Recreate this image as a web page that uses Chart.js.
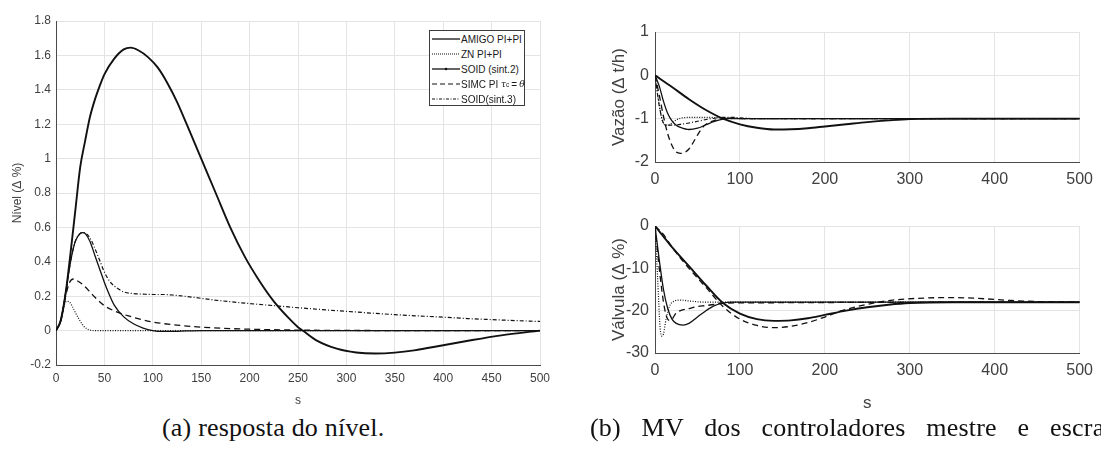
<!DOCTYPE html>
<html lang="pt">
  <head>
    <meta charset="UTF-8" />
    <title>Resposta do nível e MV dos controladores</title>
    <script src="https://cdn.jsdelivr.net/npm/chart.js"></script>
    <style>
      body {
        margin: 0;
        width: 1101px;
        height: 455px;
        overflow: hidden;
        position: relative;
        background: #fff;
        font-family: "Liberation Sans", Arial, sans-serif;
      }
      canvas { position: absolute; }
      #nivelChart { left: 0; top: 0; }
      #vazaoChart { left: 590px; top: 0; }
      #valvulaChart { left: 590px; top: 200px; }
      .legenda {
        position: absolute;
        left: 429px;
        top: 30px;
        width: 96px;
        height: 76px;
        box-sizing: border-box;
        border: 1px solid #3c3c3c;
        background: #fff;
        font-size: 10px;
        color: #1a1a1a;
        padding-top: 0.5px;
      }
      .legenda div {
        height: 15px;
        display: flex;
        align-items: center;
        white-space: nowrap;
      }
      .legenda svg { width: 28px; height: 8px; margin: 0 1px 0 2px; flex: none; }
      .legenda i { font-family: "DejaVu Serif", serif; font-size: 9px; }
      .legenda sub { font-size: 6.5px; }
      .caption {
        position: absolute;
        top: 413px;
        font-family: "Liberation Serif", "DejaVu Serif", serif;
        font-size: 26px;
        letter-spacing: 0.2px;
        color: #111;
        white-space: nowrap;
      }
    </style>
  </head>
  <body>
    <canvas id="nivelChart" width="560" height="412"></canvas>
    <canvas id="vazaoChart" width="511" height="200"></canvas>
    <canvas id="valvulaChart" width="511" height="218"></canvas>

    <div class="legenda">
      <div><svg><line x1="0" y1="4" x2="28" y2="4" stroke="#111" stroke-width="1.3" /></svg>AMIGO PI+PI</div>
      <div><svg><line x1="0" y1="4" x2="28" y2="4" stroke="#111" stroke-width="1" stroke-dasharray="1 1" /></svg>ZN PI+PI</div>
      <div><svg><line x1="0" y1="4" x2="28" y2="4" stroke="#111" stroke-width="1.3" /><circle cx="14" cy="4" r="1.3" fill="#111" /></svg>SOID (sint.2)</div>
      <div><svg><line x1="0" y1="4" x2="28" y2="4" stroke="#111" stroke-width="1.2" stroke-dasharray="5 3" /></svg>SIMC PI <i>&nbsp;τ</i><sub>c</sub>&thinsp;=&thinsp;<i>θ</i></div>
      <div><svg><line x1="0" y1="4" x2="28" y2="4" stroke="#111" stroke-width="1" stroke-dasharray="3 1.5 1 1.5" /></svg>SOID(sint.3)</div>
    </div>

    <div class="caption" style="left: 162px">(a) resposta do nível.</div>
    <div class="caption" style="left: 590px; word-spacing: 14px">(b) MV dos controladores mestre e escravo.</div>

    <script>
      // ---- (a) Nível (Δ %) ----
      const nivelSoid2T = [0, 5, 10, 15, 20, 25, 30, 35, 40, 45, 50, 60, 70, 77, 85, 95, 105, 115, 125, 135, 150, 165, 180, 195, 210, 225, 240, 250, 255, 270, 290, 310, 330, 350, 370, 400, 430, 460, 500];
      const nivelSoid2 = [0, 0.06, 0.22, 0.45, 0.7, 0.95, 1.1, 1.24, 1.34, 1.42, 1.49, 1.58, 1.635, 1.645, 1.63, 1.59, 1.53, 1.44, 1.33, 1.2, 1.0, 0.8, 0.6, 0.43, 0.29, 0.17, 0.075, 0.02, 0, -0.06, -0.105, -0.127, -0.133, -0.128, -0.115, -0.085, -0.055, -0.028, 0];

      const nivelAmigoT = [0, 5, 10, 15, 20, 25, 28, 30, 35, 40, 45, 50, 55, 60, 70, 80, 90, 100, 110, 125, 150, 300, 500];
      const nivelAmigo = [0, 0.06, 0.22, 0.4, 0.52, 0.565, 0.57, 0.565, 0.52, 0.44, 0.36, 0.28, 0.21, 0.15, 0.08, 0.04, 0.015, 0, -0.005, -0.004, 0, 0, 0];

      const nivelSoid3T = [0, 5, 10, 15, 20, 25, 28, 32, 36, 40, 45, 50, 55, 60, 65, 70, 80, 90, 100, 110, 120, 140, 160, 180, 200, 225, 250, 275, 300, 325, 350, 375, 400, 425, 450, 475, 500];
      const nivelSoid3 = [0, 0.06, 0.22, 0.4, 0.52, 0.565, 0.57, 0.56, 0.53, 0.48, 0.41, 0.34, 0.29, 0.26, 0.24, 0.225, 0.215, 0.212, 0.21, 0.21, 0.207, 0.195, 0.18, 0.168, 0.157, 0.145, 0.133, 0.122, 0.112, 0.102, 0.093, 0.085, 0.078, 0.07, 0.064, 0.058, 0.053];

      const nivelSimcT = [0, 5, 10, 14, 18, 22, 26, 30, 35, 40, 50, 60, 75, 100, 125, 150, 200, 250, 300, 400, 500];
      const nivelSimc = [0, 0.06, 0.2, 0.28, 0.3, 0.29, 0.275, 0.255, 0.225, 0.195, 0.145, 0.115, 0.085, 0.05, 0.032, 0.02, 0.008, 0.003, 0.001, 0, 0];

      const nivelZnT = [0, 4, 8, 11, 14, 17, 20, 24, 28, 32, 36, 40, 60, 100, 500];
      const nivelZn = [0, 0.05, 0.14, 0.17, 0.165, 0.14, 0.105, 0.065, 0.03, 0.01, 0.002, 0, 0, 0, 0];

      // ---- (b) Vazão (Δ t/h) ----
      const vazaoSoid2T = [0, 20, 40, 60, 80, 100, 120, 140, 160, 180, 200, 225, 250, 275, 300, 350, 400, 500];
      const vazaoSoid2 = [0, -0.27, -0.55, -0.8, -1.0, -1.13, -1.21, -1.25, -1.245, -1.22, -1.18, -1.13, -1.08, -1.04, -1.01, -1.0, -1.0, -1.0];

      const vazaoAmigoT = [0, 5, 10, 15, 20, 25, 30, 40, 50, 60, 70, 80, 90, 100, 500];
      const vazaoAmigo = [0, -0.25, -0.6, -0.88, -1.05, -1.15, -1.2, -1.25, -1.22, -1.14, -1.06, -1.01, -0.99, -1.0, -1.0];

      const vazaoSimcT = [0, 5, 10, 15, 20, 25, 30, 35, 40, 45, 50, 55, 60, 70, 80, 100, 500];
      const vazaoSimc = [0, -0.45, -0.95, -1.35, -1.62, -1.77, -1.8, -1.78, -1.7, -1.55, -1.38, -1.23, -1.13, -1.04, -1.0, -1.0, -1.0];

      const vazaoZnT = [0, 4, 8, 12, 16, 20, 25, 30, 40, 60, 80, 90, 100, 500];
      const vazaoZn = [0, -0.55, -1.0, -1.15, -1.15, -1.1, -1.03, -0.99, -0.97, -0.97, -0.98, -0.99, -1.0, -1.0];

      const vazaoSoid3T = [0, 5, 10, 15, 20, 30, 40, 50, 60, 70, 80, 90, 100, 120, 500];
      const vazaoSoid3 = [0, -0.7, -1.1, -1.15, -1.15, -1.13, -1.1, -1.06, -1.02, -0.99, -0.97, -0.97, -0.98, -1.0, -1.0];

      // ---- (b) Válvula (Δ %) ----
      const valvulaSoid2T = [0, 10, 20, 40, 60, 80, 100, 120, 140, 160, 180, 200, 225, 250, 275, 300, 350, 400, 500];
      const valvulaSoid2 = [0, -2.5, -5, -9.5, -14, -18.2, -20.7, -22, -22.4, -22.3, -21.8, -21, -20, -19.2, -18.6, -18.2, -18, -18, -18];

      const valvulaAmigoT = [0, 5, 10, 15, 20, 25, 33, 40, 50, 60, 70, 80, 90, 500];
      const valvulaAmigo = [0, -8, -15, -19.5, -22, -23, -23.4, -23, -21.5, -20, -18.8, -18.2, -18, -18];

      const valvulaSimcT = [0, 5, 10, 13, 17, 20, 25, 30, 40, 50, 60, 70, 80, 500];
      const valvulaSimc = [0, -10, -18, -21, -22.3, -22, -20.5, -20, -19.5, -19, -18.8, -18.5, -18.2, -18];

      const valvulaZnT = [0, 3, 6, 8, 10, 13, 17, 22, 30, 40, 60, 500];
      const valvulaZn = [0, -12, -24, -26, -25.5, -22, -19, -17.8, -17.5, -17.7, -18, -18];

      const valvulaSoid3T = [0, 10, 20, 40, 60, 80, 100, 120, 140, 160, 180, 200, 220, 250, 280, 320, 350, 380, 420, 460, 500];
      const valvulaSoid3 = [0, -2, -5, -10, -14.5, -19, -22, -23.5, -24, -23.7, -22.8, -21.5, -20, -18.5, -17.5, -17, -16.9, -17.1, -17.6, -17.9, -18];

      const xTicksNivel = [0, 50, 100, 150, 200, 250, 300, 350, 400, 450, 500];
      const xTicksMv = [0, 100, 200, 300, 400, 500];

      Chart.defaults.font.family = "'Liberation Sans', Arial, sans-serif";
      Chart.defaults.color = "#404040";
      Chart.defaults.animation = false;

      const pts = (t, v) => t.map((x, i) => ({ x: x, y: v[i] }));

      // estilos de linha (preto, como no MATLAB)
      const estilo = {
        solido: { borderDash: [], borderWidth: 1.3 },
        grosso: { borderDash: [], borderWidth: 1.9 },
        pontilhado: { borderDash: [1, 1.5], borderWidth: 1.2 },
        tracejado: { borderDash: [6, 4], borderWidth: 1.3 },
        tracoPonto: { borderDash: [4, 2, 1, 2], borderWidth: 1.2 },
      };

      function serie(label, t, v, st) {
        return {
          label: label,
          data: pts(t, v),
          borderColor: "#111",
          borderWidth: estilo[st].borderWidth,
          borderDash: estilo[st].borderDash,
          pointRadius: 0,
          cubicInterpolationMode: "monotone",
          fill: false,
        };
      }

      function makeChart(id, datasets, cfg) {
        const ctx = document.getElementById(id).getContext("2d");
        return new Chart(ctx, {
          type: "line",
          data: { datasets: datasets },
          options: {
            responsive: false,
            devicePixelRatio: 1,
            layout: { padding: cfg.padding },
            plugins: { legend: { display: false }, tooltip: { enabled: false } },
            scales: {
              x: {
                type: "linear",
                min: 0,
                max: 500,
                afterFit: (s) => { s.height = cfg.xHeight; },
                afterBuildTicks: (s) => { s.ticks = cfg.xTicks.map((v) => ({ value: v })); },
                ticks: { font: { size: cfg.tickSize }, padding: cfg.xPad, maxRotation: 0, autoSkip: false },
                grid: { color: "#e4e4e4", drawTicks: false },
                border: { color: "#4a4a4a", width: 1 },
                title: cfg.xTitle
                  ? { display: true, text: "s", font: { size: cfg.xTitleSize }, color: "#404040", padding: { top: 0, bottom: 4 } }
                  : { display: false },
              },
              y: {
                min: cfg.yMin,
                max: cfg.yMax,
                afterFit: (s) => { s.width = cfg.yWidth; },
                ticks: {
                  stepSize: cfg.yStep,
                  font: { size: cfg.tickSize },
                  padding: cfg.yPad,
                  callback: (v) => String(+v.toFixed(1)),
                },
                grid: { color: "#e4e4e4", drawTicks: false },
                border: { color: "#4a4a4a", width: 1 },
                title: { display: true, text: cfg.yTitle, font: { size: cfg.yTitleSize }, color: "#404040", padding: { top: 4, bottom: 0 } },
              },
            },
          },
        });
      }

      makeChart(
        "nivelChart",
        [
          serie("AMIGO PI+PI", nivelAmigoT, nivelAmigo, "solido"),
          serie("ZN PI+PI", nivelZnT, nivelZn, "pontilhado"),
          serie("SOID (sint.2)", nivelSoid2T, nivelSoid2, "grosso"),
          serie("SIMC PI", nivelSimcT, nivelSimc, "tracejado"),
          serie("SOID(sint.3)", nivelSoid3T, nivelSoid3, "tracoPonto"),
        ],
        {
          padding: { left: 6, top: 21, right: 20, bottom: 0 },
          yWidth: 50, xHeight: 47,
          yMin: -0.2, yMax: 1.8, yStep: 0.2,
          xTicks: xTicksNivel,
          tickSize: 12, xPad: 6, yPad: 5,
          yTitle: "Nível (Δ %)", yTitleSize: 12,
          xTitle: true, xTitleSize: 12,
        }
      );

      makeChart(
        "vazaoChart",
        [
          serie("AMIGO PI+PI", vazaoAmigoT, vazaoAmigo, "solido"),
          serie("ZN PI+PI", vazaoZnT, vazaoZn, "pontilhado"),
          serie("SOID (sint.2)", vazaoSoid2T, vazaoSoid2, "grosso"),
          serie("SIMC PI", vazaoSimcT, vazaoSimc, "tracejado"),
          serie("SOID(sint.3)", vazaoSoid3T, vazaoSoid3, "tracoPonto"),
        ],
        {
          padding: { left: 15, top: 32, right: 14, bottom: 0 },
          yWidth: 50, xHeight: 38,
          yMin: -2, yMax: 1, yStep: 1,
          xTicks: xTicksMv,
          tickSize: 16, xPad: 8, yPad: 6,
          yTitle: "Vazão (Δ t/h)", yTitleSize: 17,
          xTitle: false,
        }
      );

      makeChart(
        "valvulaChart",
        [
          serie("AMIGO PI+PI", valvulaAmigoT, valvulaAmigo, "solido"),
          serie("ZN PI+PI", valvulaZnT, valvulaZn, "pontilhado"),
          serie("SOID (sint.2)", valvulaSoid2T, valvulaSoid2, "grosso"),
          serie("SIMC PI", valvulaSimcT, valvulaSimc, "tracejado"),
          serie("SOID(sint.3)", valvulaSoid3T, valvulaSoid3, "tracejado"),
        ],
        {
          padding: { left: 15, top: 26, right: 14, bottom: 0 },
          yWidth: 50, xHeight: 65,
          yMin: -30, yMax: 0, yStep: 10,
          xTicks: xTicksMv,
          tickSize: 16, xPad: 8, yPad: 6,
          yTitle: "Válvula (Δ %)", yTitleSize: 17,
          xTitle: true, xTitleSize: 17,
        }
      );
    </script>
  </body>
</html>
